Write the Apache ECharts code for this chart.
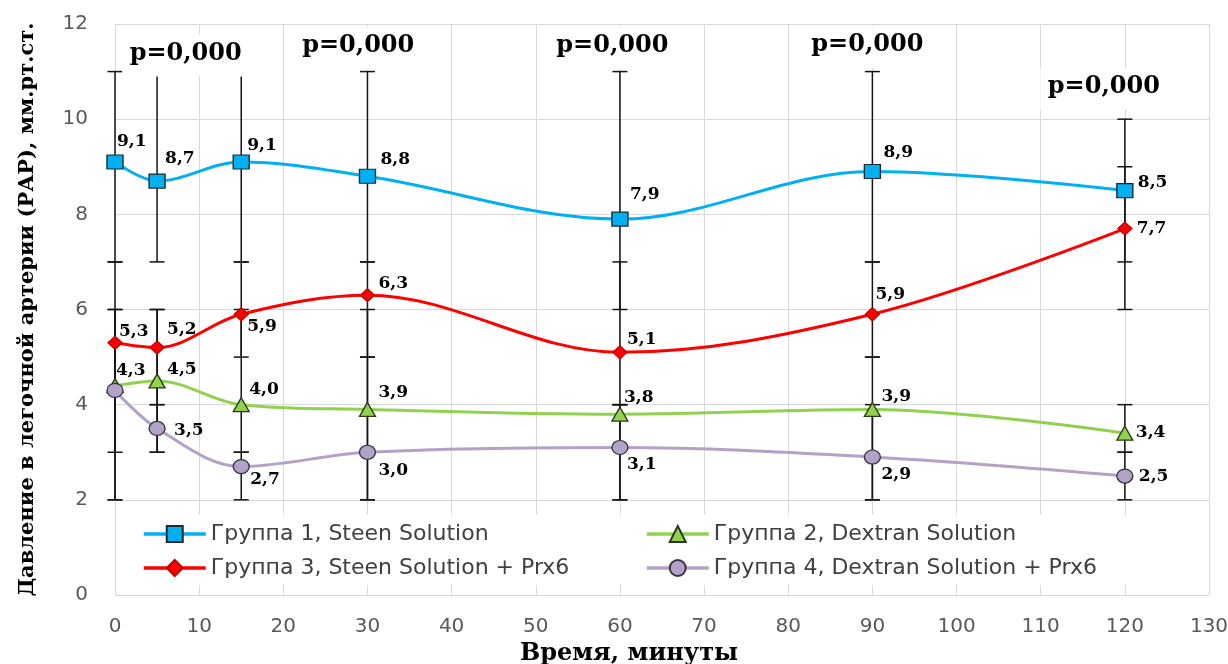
<!DOCTYPE html>
<html><head><meta charset="utf-8">
<script src="https://cdn.jsdelivr.net/npm/echarts@6/dist/echarts.min.js"></script>
<style>html,body{margin:0;padding:0;background:#fff}#c{width:1228px;height:664px}</style>
</head><body><div id="c"></div>
<script>
// ---- data ----
const minutes = [0, 5, 15, 30, 60, 90, 120];
const seriesNames = ['Группа 1, Steen Solution', 'Группа 2, Dextran Solution', 'Группа 3, Steen Solution + Prx6', 'Группа 4, Dextran Solution + Prx6'];
const group1 = [9.1, 8.7, 9.1, 8.8, 7.9, 8.9, 8.5];
const group1Low = [7, 7, 7, 7, 6, 7, 7];
const group1High = [11, 11, 11, 11, 11, 11, 10];
const group2 = [4.4, 4.5, 4.0, 3.9, 3.8, 3.9, 3.4];
const group2Low = [2, 3, 3, 2, 2, 2, 3];
const group2High = [6, 6, 6, 6, 4, 5, 4];
const group3 = [5.3, 5.2, 5.9, 6.3, 5.1, 5.9, 7.7];
const group3Low = [3, 4, 5, 5, 4, 5, 6];
const group3High = [7, 6, 7, 7, 7, 7, 9];
const group4 = [4.3, 3.5, 2.7, 3.0, 3.1, 2.9, 2.5];
const group4Low = [2, 3, 2, 2, 2, 2, 2];
const group4High = [6, 4, 3, 5, 4, 4, 3];
const pText = ['p=0,000', 'p=0,000', 'p=0,000', 'p=0,000', 'p=0,000'];
const pX = [8.4, 28.9, 59.1, 89.4, 117.5];
const pY = [11.38, 11.54, 11.54, 11.56, 10.68];
const xMin = 0, xMax = 130, xStep = 10;
const yMin = 0, yMax = 12, yStep = 2;

// ---- styles ----
const labelOffsets = [
  [[2,-20],[8,-22],[6,-16],[13,-17],[10,-25],[11,-19],[13,-8]],
  [null,[10,-11],[8,-15],[11,-17],[4,-17],[9,-13],[11,-1]],
  [[4,-11],[10,-18],[6,12],[11,-12],[7,-13],[3,-20],[12,0]],
  [[1,-20],[17,2],[9,13],[11,18],[7,17],[9,18],[14,1]]
];
const colors = ['#00B0F0', '#92D050', '#FF0000', '#B3A2C7'];
const symbols = ['rect', 'triangle', 'diamond', 'circle'];
const symbolSizes = [[16,14],[16,14],[14,13],[16,14]];
const borderColors = ['#1b2a33', '#2a3a1a', '#c00000', '#3a3440'];
const values = [group1, group2, group3, group4];
const lows = [group1Low, group2Low, group3Low, group4Low];
const highs = [group1High, group2High, group3High, group4High];

const fmt = v => v.toFixed(1).replace('.', ',');

function errRender(params, api) {
  const x = api.value(0), lo = api.value(1), hi = api.value(2);
  const a = api.coord([x, lo]), b = api.coord([x, hi]);
  const cap = 7.5;
  const style = {stroke: '#141414', lineWidth: 1.5};
  return {type: 'group', children: [
    {type: 'line', shape: {x1: a[0], y1: a[1], x2: b[0], y2: b[1]}, style: style},
    {type: 'line', shape: {x1: a[0]-cap, y1: a[1], x2: a[0]+cap, y2: a[1]}, style: style},
    {type: 'line', shape: {x1: b[0]-cap, y1: b[1], x2: b[0]+cap, y2: b[1]}, style: style}
  ]};
}

function pRender(params, api) {
  const c = api.coord([api.value(0), api.value(1)]);
  return {type: 'group', children: [
    {type: 'rect', z2: 1, shape: {x: c[0] - 63.5, y: c[1] - 19, width: 127, height: 42}, style: {fill: '#fff'}},
    {type: 'text', z2: 2, style: {text: pText[params.dataIndex], x: c[0], y: c[1], align: 'center', verticalAlign: 'middle',
      font: 'bold 24px "DejaVu Serif"', fill: '#000'}}
  ]};
}

const series = [];
values.forEach((vals, i) => {
  series.push({
    type: 'custom', z: 1, silent: true, renderItem: errRender,
    encode: {x: 0, y: [1, 2]},
    data: minutes.map((m, k) => [m, lows[i][k], highs[i][k]])
  });
});
values.forEach((vals, i) => {
  series.push({
    type: 'line', name: seriesNames[i], z: 2, smooth: 0.35,
    symbol: symbols[i], symbolSize: symbolSizes[i],
    lineStyle: {color: colors[i], width: 3},
    itemStyle: {color: colors[i], borderColor: borderColors[i], borderWidth: 1.3, opacity: 1},
    data: minutes.map((m, k) => {
      const off = labelOffsets[i][k];
      return {
        value: [m, vals[k]],
        label: off ? {show: true, position: 'inside', align: 'left', verticalAlign: 'middle', offset: off,
          formatter: fmt(vals[k]), fontFamily: 'DejaVu Serif', fontWeight: 'bold', fontSize: 17, color: '#000'} : {show: false}
      };
    })
  });
});
series.push({
  type: 'custom', z: 10, silent: true, renderItem: pRender,
  encode: {x: 0, y: 1},
  data: pX.map((x, k) => [x, pY[k]])
});

const legendText = {fontFamily: 'DejaVu Sans', fontSize: 22, color: '#404040'};
const chart = echarts.init(document.getElementById('c'), null, {renderer: 'canvas'});
chart.setOption({
  animation: false,
  backgroundColor: '#fff',
  grid: {left: 115, right: 19, top: 24, bottom: 69, containLabel: false, outerBoundsMode: 'none'},
  xAxis: {
    type: 'value', min: xMin, max: xMax, interval: xStep,
    axisLine: {show: false}, axisTick: {show: false},
    splitLine: {show: true, lineStyle: {color: '#d9d9d9', width: 1}},
    axisLabel: {margin: 22, fontFamily: 'DejaVu Sans', fontSize: 20, color: '#595959'},
    name: 'Время, минуты', nameLocation: 'middle', nameGap: 44,
    nameTextStyle: {fontFamily: 'DejaVu Serif', fontWeight: 'bold', fontSize: 24, color: '#000', padding: [0, 66, 0, 0]}
  },
  yAxis: {
    type: 'value', min: yMin, max: yMax, interval: yStep,
    axisLine: {show: false}, axisTick: {show: false},
    splitLine: {show: true, lineStyle: {color: '#d9d9d9', width: 1}},
    axisLabel: {margin: 27, fontFamily: 'DejaVu Sans', fontSize: 20, color: '#595959'},
    name: 'Давление в легочной артерии (РАР), мм.рт.ст.', nameLocation: 'middle', nameGap: 77,
    nameTextStyle: {fontFamily: 'DejaVu Serif', fontWeight: 'bold', fontSize: 21, color: '#000'}
  },
  legend: [
    {data: [seriesNames[0], seriesNames[2]], orient: 'vertical', left: 130, top: 515,
     itemWidth: 62, itemHeight: 20, itemGap: 12, padding: [8, 80, 6, 12], backgroundColor: '#fff',
     lineStyle: {width: 3.5}, textStyle: legendText, selectedMode: false},
    {data: [seriesNames[1], seriesNames[3]], orient: 'vertical', left: 645, top: 515,
     itemWidth: 62, itemHeight: 20, itemGap: 12, padding: [8, 30, 6, 0], backgroundColor: '#fff',
     lineStyle: {width: 3.5}, textStyle: legendText, selectedMode: false}
  ],
  series: series
});
</script></body></html>
